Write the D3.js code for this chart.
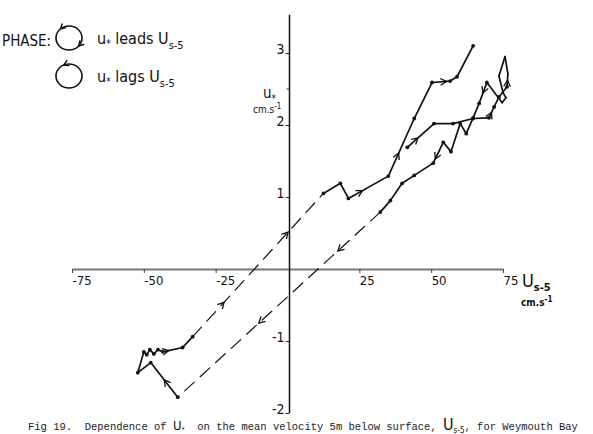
<!DOCTYPE html>
<html>
<head>
<meta charset="utf-8">
<script src="https://cdn.jsdelivr.net/npm/d3@7"></script>
<style>
  body { margin: 0; background: #fff; }
  svg { display: block; }
  .hand { font-family: "DejaVu Sans Condensed", "DejaVu Sans", sans-serif; fill: #111; }
  .type { font-family: "Liberation Mono", "DejaVu Sans Mono", monospace; fill: #222; }
</style>
</head>
<body>
<svg id="chart" width="593" height="434"></svg>
<script>
// tidal cycle at Weymouth Bay, in the order the points were taken
const uS5 = [41.7, 51.0, 57.6, 64.6, 70.1, 71.9, 73.6, 76.4, 76.7, 75.7, 73.6, 75.0, 76.0, 74.7,
  69.4, 66.7, 64.6, 62.2, 60.1, 56.9, 54.2, 50.7, 44.1, 39.9, 35.8, 32.3,
  -38.2, -47.6, -52.1, -50.0, -49.0, -47.9, -46.5, -45.1, -43.4, -36.5, -33.0,
  12.5, 18.4, 21.2, 35.1, 44.1, 50.3, 56.6, 59.0, 64.6]
const uStar = [1.69, 2.02, 2.02, 2.09, 2.10, 2.25, 2.39, 2.53, 2.71, 2.95, 2.68, 2.45, 2.38, 2.31,
  2.59, 2.30, 2.10, 1.88, 2.02, 1.63, 1.76, 1.47, 1.30, 1.19, 0.95, 0.79,
  -1.78, -1.30, -1.44, -1.15, -1.19, -1.12, -1.18, -1.12, -1.15, -1.09, -0.94,
  1.05, 1.19, 0.98, 1.29, 2.09, 2.59, 2.61, 2.67, 3.10]
// segments (start index) with no data in between -> dashed
const gapSegments = [25, 36]
// direction arrows: segment start index and fraction along it
const arrowSeg = [0, 4, 7, 14, 20, 25, 25, 26, 34, 36, 36, 39, 40, 42]
const arrowAt = [0.4, 0.5, 0.5, 0.5, 0.8, 0.21, 0.6, 0.5, 0.3, 0.24, 0.73, 0.35, 0.4, 0.8]

const xTicks = [-75, -50, -25, 25, 50, 75]
const yTicks = [-2, -1, 1, 2, 3]

const svg = d3.select('#chart')
const x = d3.scaleLinear().domain([-75, 75]).range([72, 503])
const y = d3.scaleLinear().domain([-2, 3]).range([413, 53])

const pts = uS5.map((v, i) => [x(v), y(uStar[i])])

// x axis
const xAxis = svg.append('g')
  .attr('transform', 'translate(0,' + y(0) + ')')
  .call(d3.axisBottom(x).tickValues(xTicks).tickSize(4).tickSizeOuter(0).tickFormat(d => d < 0 ? '-' + (-d) : d))
xAxis.select('.domain').attr('stroke', '#777').attr('stroke-width', 2)
xAxis.selectAll('.tick line').attr('stroke', '#444')
xAxis.selectAll('.tick text')
  .attr('class', 'hand')
  .attr('text-anchor', 'start')
  .attr('y', 7).attr('dy', '0.71em')
  .style('font-size', '13px')
  .attr('font-family', null)

// y axis, it runs a little past 3
const yAxis = svg.append('g')
  .attr('transform', 'translate(' + (x(0) + 2) + ',0)')
  .call(d3.axisLeft(y).tickValues(yTicks).tickSize(4).tickSizeOuter(0).tickFormat(d => d < 0 ? '-' + (-d) : d))
yAxis.select('.domain').remove()
yAxis.append('line')
  .attr('y1', y(3.53)).attr('y2', y(-2))
  .attr('stroke', '#111').attr('stroke-width', 1.5)
yAxis.selectAll('.tick line').attr('stroke', '#333')
yAxis.selectAll('.tick text')
  .attr('class', 'hand')
  .attr('x', -5).attr('dy', '0.05em')
  .style('font-size', '14px')
  .attr('font-family', null)
yAxis.append('line')
  .attr('x1', -3).attr('x2', 0)
  .attr('y1', y(2.5)).attr('y2', y(2.5))
  .attr('stroke', '#333')

// the record
for (let i = 0; i < pts.length - 1; i++) {
  const dashed = gapSegments.includes(i)
  svg.append('line')
    .attr('x1', pts[i][0]).attr('y1', pts[i][1])
    .attr('x2', pts[i + 1][0]).attr('y2', pts[i + 1][1])
    .attr('stroke', '#111')
    .attr('stroke-width', dashed ? 1.2 : 1.7)
    .attr('stroke-dasharray', dashed ? '13,8' : null)
    .attr('stroke-linecap', 'round')
}

svg.selectAll('circle.pt')
  .data(pts.filter((p, i) => i < 8 || i > 13))
  .enter().append('circle')
  .attr('class', 'pt')
  .attr('cx', d => d[0]).attr('cy', d => d[1])
  .attr('r', 1.9)
  .attr('fill', '#111')

function chevron(px, py, ang, size) {
  const a1 = ang + Math.PI - 0.5
  const a2 = ang + Math.PI + 0.5
  return 'M' + (px + size * Math.cos(a1)) + ',' + (py + size * Math.sin(a1)) +
    'L' + px + ',' + py +
    'L' + (px + size * Math.cos(a2)) + ',' + (py + size * Math.sin(a2))
}

arrowSeg.forEach((s, k) => {
  const a = pts[s], b = pts[s + 1], t = arrowAt[k]
  const px = a[0] + (b[0] - a[0]) * t
  const py = a[1] + (b[1] - a[1]) * t
  const ang = Math.atan2(b[1] - a[1], b[0] - a[0])
  svg.append('path')
    .attr('d', chevron(px, py, ang, 7))
    .attr('fill', 'none').attr('stroke', '#111').attr('stroke-width', 1.3)
})

// axis titles
const yt = svg.append('text').attr('class', 'hand').attr('x', 263).attr('y', 98).style('font-size', '15px')
yt.append('tspan').text('u')
yt.append('tspan').attr('dy', 4).style('font-size', '10px').text('*')
const yu = svg.append('text').attr('class', 'hand').attr('x', 253).attr('y', 113).style('font-size', '10px')
yu.append('tspan').text('cm.s')
yu.append('tspan').attr('dy', -4).style('font-size', '8px').text('-1')

const xt = svg.append('text').attr('class', 'hand').attr('x', 522).attr('y', 287).style('font-size', '18px')
xt.append('tspan').text('U')
xt.append('tspan').attr('dy', 4).style('font-size', '11px').style('font-weight', 'bold').text('s-5')
const xu = svg.append('text').attr('class', 'hand').attr('x', 521).attr('y', 306).style('font-size', '10px').style('font-weight', 'bold')
xu.append('tspan').text('cm.s')
xu.append('tspan').attr('dy', -4).style('font-size', '8px').text('-1')

// phase key
svg.append('text').attr('class', 'hand').attr('x', 2).attr('y', 46).style('font-size', '15px').text('PHASE:')
const keys = [{cy: 38, label: 'leads', arrows: [[-2.3, -1], [0.75, 1]]}, {cy: 76, label: 'lags', arrows: [[-2.0, -1]]}]
keys.forEach(k => {
  const cx = 69, r = 12
  svg.append('ellipse').attr('cx', cx).attr('cy', k.cy).attr('rx', r + 1).attr('ry', r)
    .attr('fill', 'none').attr('stroke', '#111').attr('stroke-width', 1.6)
  k.arrows.forEach(a => {
    const px = cx + (r + 1) * Math.cos(a[0]), py = k.cy + r * Math.sin(a[0])
    const ang = a[0] + a[1] * Math.PI / 2
    svg.append('path').attr('d', chevron(px, py, ang, 6))
      .attr('fill', 'none').attr('stroke', '#111').attr('stroke-width', 1.4)
  })
  const t = svg.append('text').attr('class', 'hand').attr('x', 97).attr('y', k.cy + 6).style('font-size', '16px')
  t.append('tspan').text('u')
  t.append('tspan').attr('dy', 3).style('font-size', '10px').text('*')
  t.append('tspan').attr('dy', -3).text(' ' + k.label + ' U')
  t.append('tspan').attr('dy', 5).style('font-size', '11px').text('s-5')
})

// caption
const cap = svg.append('text').attr('class', 'type').attr('x', 28).attr('y', 430).style('font-size', '10.5px').attr('xml:space', 'preserve')
cap.append('tspan').text('Fig 19.  Dependence of ')
cap.append('tspan').attr('class', 'hand').style('font-size', '13px').text('U')
cap.append('tspan').attr('class', 'hand').attr('dy', 2).style('font-size', '7px').text('*')
cap.append('tspan').attr('dy', -2).text('  on the mean velocity 5m below surface, ')
cap.append('tspan').attr('class', 'hand').style('font-size', '16px').text('U')
cap.append('tspan').attr('class', 'hand').attr('dy', 3).style('font-size', '8px').text('s-5')
cap.append('tspan').attr('dy', -3).text(', for Weymouth Bay')
</script>
</body>
</html>
